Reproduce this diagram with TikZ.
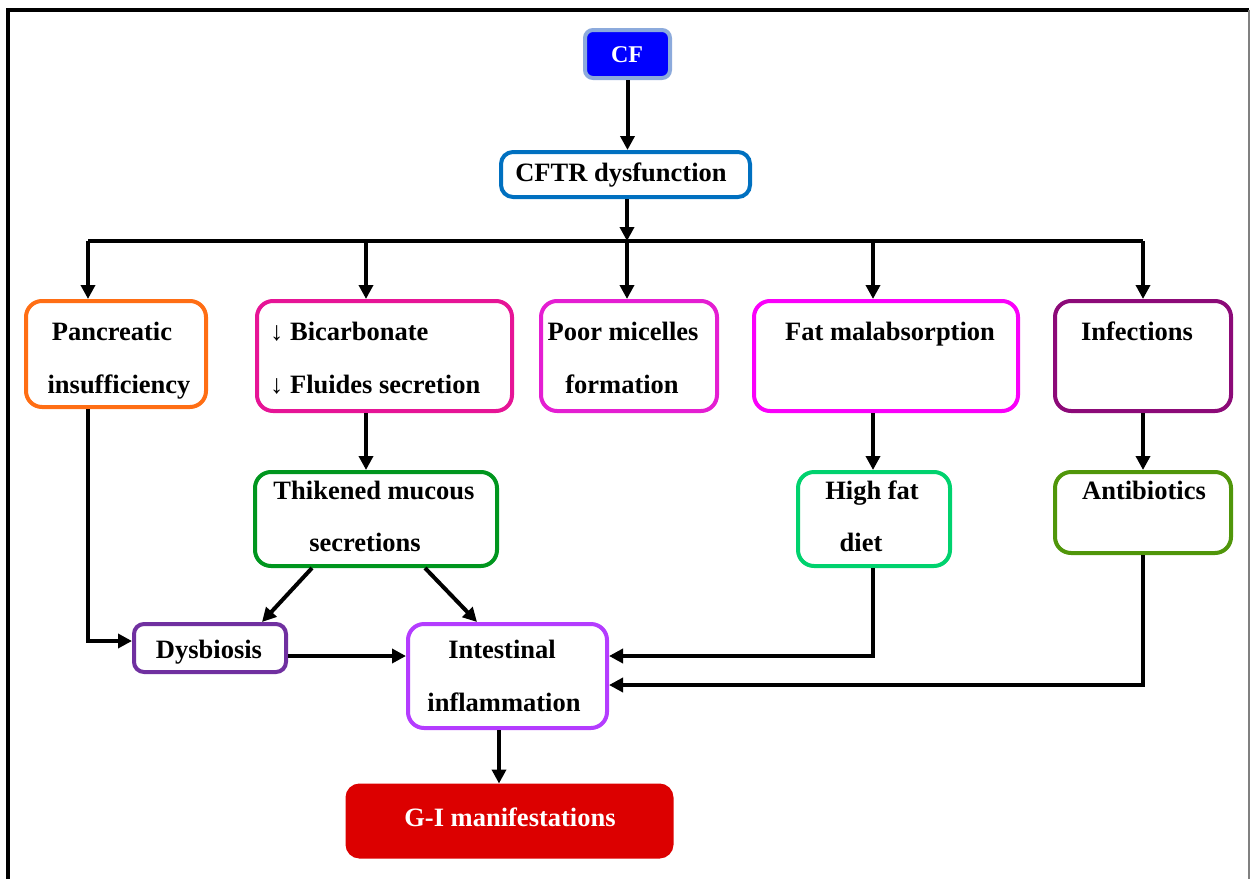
\documentclass[tikz,border=0pt]{standalone}
\usepackage{fontspec}
\setmainfont{Liberation Serif}
\usetikzlibrary{arrows.meta}
\definecolor{cfblue}{RGB}{0,0,255}
\definecolor{cfedge}{RGB}{140,170,220}
\definecolor{cftrc}{RGB}{0,112,192}
\definecolor{pancc}{RGB}{255,110,20}
\definecolor{bicc}{RGB}{230,20,150}
\definecolor{poorc}{RGB}{228,30,210}
\definecolor{fatc}{RGB}{250,0,250}
\definecolor{infc}{RGB}{140,10,120}
\definecolor{thickc}{RGB}{0,150,30}
\definecolor{highc}{RGB}{0,210,110}
\definecolor{antic}{RGB}{80,150,10}
\definecolor{dysc}{RGB}{112,48,160}
\definecolor{intc}{RGB}{180,60,255}
\definecolor{gic}{RGB}{220,0,0}
\begin{document}
\begin{tikzpicture}[x=1pt,y=-1pt,
  box/.style={draw, line width=4pt, rounded corners=16pt, inner sep=0pt, fill=white},
  lbl/.style={font=\bfseries\fontsize{26.5}{26.5}\selectfont, inner sep=0pt, anchor=base},
  conn/.style={line width=4pt, -{Triangle[length=14pt,width=14pt]}},
  plain/.style={line width=4pt}]
\useasboundingbox (0,0) rectangle (1252,878);
% frame
\draw[line width=4pt] (8,890) -- (8,10) -- (1249,10);
\draw[line width=1.5pt, gray] (1249,10) -- (1249,890);

% boxes
\node[box, draw=cfedge, fill=cfblue, rounded corners=8pt, minimum width=85pt, minimum height=48pt] (cf) at (627.5,54) {};
\node[box, draw=cftrc, rounded corners=12pt, minimum width=249pt, minimum height=45pt] (cftr) at (625.5,174.5) {};
\node[box, draw=pancc, minimum width=180pt, minimum height=106pt] (panc) at (116,354) {};
\node[box, draw=bicc, minimum width=255pt, minimum height=110pt] (bic) at (384.5,356) {};
\node[box, draw=poorc, minimum width=176pt, minimum height=110pt] (poor) at (629,356) {};
\node[box, draw=fatc, minimum width=264pt, minimum height=110pt] (fat) at (886,356) {};
\node[box, draw=infc, minimum width=176pt, minimum height=110pt] (inf) at (1143,356) {};
\node[box, draw=thickc, minimum width=242pt, minimum height=94pt] (thick) at (376,519) {};
\node[box, draw=highc, minimum width=152pt, minimum height=94pt] (high) at (874,519) {};
\node[box, draw=antic, minimum width=176pt, minimum height=81pt] (anti) at (1143,512.5) {};
\node[box, draw=dysc, rounded corners=10pt, minimum width=152pt, minimum height=48pt] (dysb) at (210,648) {};
\node[box, draw=intc, minimum width=199pt, minimum height=104pt] (intf) at (507.5,676) {};
\node[box, draw=gic, fill=gic, rounded corners=12pt, minimum width=324pt, minimum height=71pt] (gi) at (509.5,821) {};

% texts
\node[lbl, text=white, font=\bfseries\fontsize{24}{24}\selectfont] (tcf) at (627,62) {CF};
\node[lbl] (tcftr) at (621,181) {CFTR dysfunction};
\node[lbl] (tpanc1) at (112,340) {Pancreatic};
\node[lbl] (tpanc2) at (119,393) {insufficiency};
\node[lbl, anchor=base west] (tbic1) at (270,340) {{\mdseries↓} Bicarbonate};
\node[lbl, anchor=base west] (tbic2) at (270,393) {{\mdseries↓} Fluides secretion};
\node[lbl] (tpoor1) at (623,340) {Poor micelles};
\node[lbl] (tpoor2) at (622,393) {formation};
\node[lbl] (tfat) at (890,340) {Fat malabsorption};
\node[lbl] (tinf) at (1137,340) {Infections};
\node[lbl] (tthick1) at (374,499) {Thikened mucous};
\node[lbl] (tthick2) at (365,551) {secretions};
\node[lbl] (thigh1) at (872,499) {High fat};
\node[lbl] (thigh2) at (861,551) {diet};
\node[lbl] (tanti) at (1144,499) {Antibiotics};
\node[lbl] (tdys) at (209,658) {Dysbiosis};
\node[lbl] (tint1) at (502,658) {Intestinal};
\node[lbl] (tint2) at (504,711) {inflammation};
\node[lbl, text=white] (tgi) at (510,826) {G-I manifestations};

% bus coordinates
\coordinate (b0) at (627,241);
\coordinate (b1) at (88,241);
\coordinate (b2) at (366,241);
\coordinate (b4) at (873,241);
\coordinate (b5) at (1143,241);

% connectors
\draw[conn] (cf.south) -- (cf.south |- cftr.north);
\draw[conn] (cftr.south -| b0) -- (b0);
\draw[plain] (b1) -- (b5);
\draw[conn] (b1) -- (b1 |- panc.north);
\draw[conn] (b2) -- (b2 |- bic.north);
\draw[conn] (b0) -- (b0 |- poor.north);
\draw[conn] (b4) -- (b4 |- fat.north);
\draw[conn] (b5) -- (b5 |- inf.north);

\draw[conn] (b2 |- bic.south) -- (b2 |- thick.north);
\draw[conn] (b4 |- fat.south) -- (b4 |- high.north);
\draw[conn] (b5 |- inf.south) -- (b5 |- anti.north);

\coordinate (pd) at (88,641);
\draw[conn] (b1 |- panc.south) -- (pd) -- (pd -| dysb.west);
\draw[conn] (312,568) -- (262,622);
\draw[conn] (425,568) -- (477,622);
\coordinate (di) at (288,656);
\draw[conn] (di) -- (di -| intf.west);
\coordinate (hi) at (873,656);
\draw[conn] (b4 |- high.south) -- (hi) -- (hi -| intf.east);
\coordinate (ai) at (1143,685);
\draw[conn] (b5 |- anti.south) -- (ai) -- (ai -| intf.east);
\coordinate (ig) at (499,730);
\draw[conn] (ig) -- (ig |- gi.north);
\end{tikzpicture}
\end{document}
